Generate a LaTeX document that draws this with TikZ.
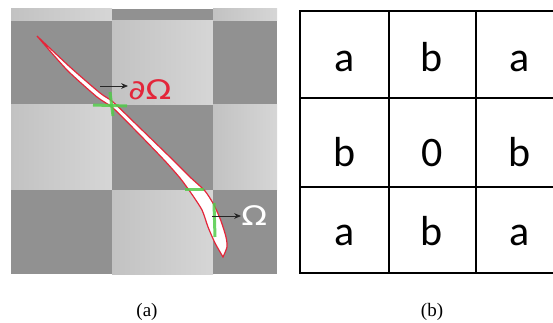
\documentclass[tikz,border=0pt]{standalone}
\usepackage{fontspec}
\setmainfont{Liberation Serif}
\newfontfamily\cellfont{Carlito}
\newfontfamily\omegafont{DejaVu Sans}
\usetikzlibrary{arrows.meta}
\definecolor{cbdark}{HTML}{919191}
\definecolor{cblightA}{HTML}{C2C2C2}
\definecolor{cblightB}{HTML}{D6D6D6}
\definecolor{cbred}{HTML}{E3263A}
\definecolor{cbgreen}{HTML}{52CC4A}
\tikzset{
  cb dark/.style={fill=cbdark},
  cb light/.style={left color=cblightA, right color=cblightB},
  cb sliver/.style={draw=cbred, line width=1.2pt, fill=white},
  cb mark/.style={draw=cbgreen, line width=3pt, opacity=0.85},
  cb arrow/.style={-{Stealth[length=2.4mm,width=2mm]}, line width=0.8pt, draw=black!85},
  cb label/.style={font=\omegafont\fontsize{27}{27}\selectfont, inner sep=0pt, xscale=1.25},
  gr line/.style={draw=black, line width=1.6pt},
  gr letter/.style={font=\cellfont\fontsize{42}{42}\selectfont, anchor=base, inner sep=0pt},
  cap label/.style={font=\fontsize{19}{19}\selectfont, anchor=base, inner sep=0pt}
}
\begin{document}
\begin{tikzpicture}[x=1pt, y=-1pt]
  \useasboundingbox (0,0) rectangle (553,323);
  % checker board
  \foreach \r/\ya/\yb in {0/9/21, 1/21/105, 2/105/190, 3/190/274}
    \foreach \c/\xa/\xb in {0/11/112, 1/112/213, 2/213/277} {
      \pgfmathtruncatemacro\cbodd{mod(\r+\c,2)}
      \ifnum\cbodd=0
        \path[cb light] (\xa,\ya) rectangle (\xb,\yb);
      \else
        \path[cb dark] (\xa,\ya) rectangle (\xb,\yb);
      \fi
    }
  % the sliver
  \draw[cb sliver] plot[smooth, tension=0.4] coordinates {(37,36) (70,67) (100,93) (113,102) (140,128)
      (173,160) (190,177) (205,191) (214,205) (221,221) (226,237) (227,247) (223,257)}
    -- plot[smooth, tension=0.4] coordinates {(223,257) (215,243) (208,227) (202,210) (191,193)
      (180,178) (165,161) (140,135) (113,108) (97,97) (67,70) (37,36)} -- cycle;
  % green marks
  \draw[cb mark] (93,105) -- (127,106);
  \draw[cb mark] (110,92) -- (113,116);
  \draw[cb mark] (185,189) -- (204,189);
  \draw[cb mark] (214,203) -- (215,237);
  % labels
  \node[cb label, text=cbred, anchor=base west] (bnd) at (128,100) {∂Ω};
  \coordinate (bndtail) at (100,86);
  \draw[cb arrow] (bndtail) -- (bndtail -| bnd.west);
  \node[cb label, text=white, anchor=base west] (dom) at (241,225) {Ω};
  \coordinate (domtail) at (212,216);
  \draw[cb arrow] (domtail) -- (domtail -| dom.west);
  % grid
  \begin{scope}
    \clip (290,0) rectangle (553,323);
    \draw[gr line] (300,11) rectangle (564,273);
    \draw[gr line] (389,11) -- (389,273) (476,11) -- (476,273)
      (300,98) -- (564,98) (300,187) -- (564,187);
  \end{scope}
  \foreach \txt [count=\i from 0] in {a,b,a,b,0,b,a,b,a} {
    \pgfmathtruncatemacro\gc{mod(\i,3)}
    \pgfmathtruncatemacro\gr{div(\i,3)}
    \pgfmathsetmacro\gy{{72,166,245}[\gr]}
    \node[gr letter] (g\gr\gc) at (344.5+87.5*\gc, \gy) {\txt};
  }
  % captions
  \node[cap label] (capa) at (147,316) {(a)};
  \node[cap label] (capb) at (432,316) {(b)};
\end{tikzpicture}
\end{document}
